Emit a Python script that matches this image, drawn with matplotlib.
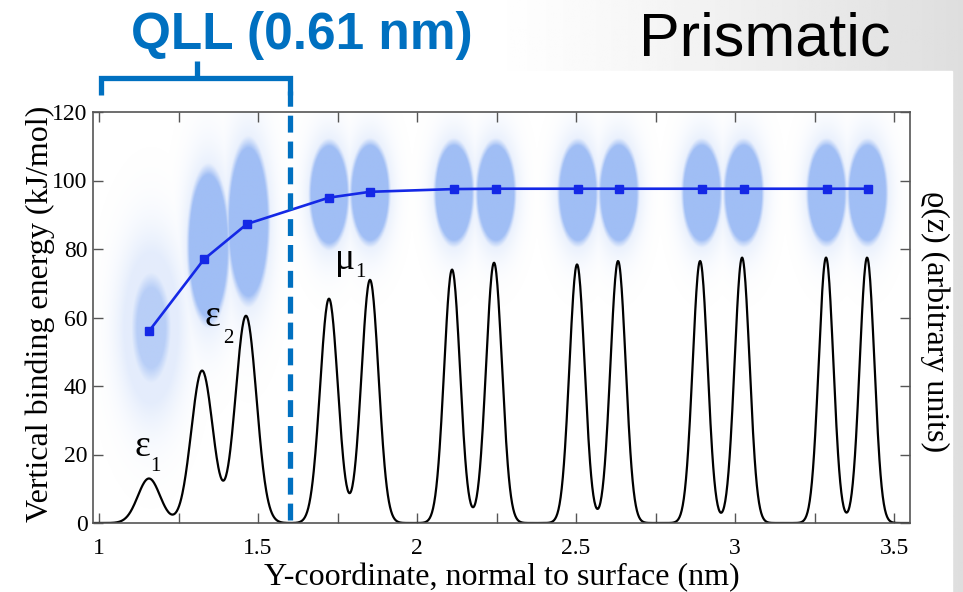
import numpy as np
import matplotlib
matplotlib.use("Agg")
import matplotlib.pyplot as plt
from matplotlib.patches import Rectangle
from matplotlib.ticker import MultipleLocator, FuncFormatter
from matplotlib.colors import to_rgb

# density profile peaks (position nm, height, width)
peak_pos = [1.157, 1.324, 1.462, 1.723, 1.852, 2.110, 2.242, 2.503, 2.632, 2.890, 3.022, 3.286, 3.415]
peak_height = [13, 44.5, 60.5, 65.5, 71, 74, 76, 75.5, 76.5, 76.5, 77.5, 77.5, 77.5]
peak_width = [0.035, 0.034, 0.033, 0.028, 0.027, 0.025, 0.025, 0.024, 0.024, 0.0235, 0.0235, 0.023, 0.023]

# mean vertical binding energy per layer
site_x = [1.157, 1.33, 1.465, 1.723, 1.852, 2.116, 2.248, 2.506, 2.635, 2.896, 3.028, 3.289, 3.418]
site_e = [56, 77, 87.3, 95, 96.7, 97.5, 97.6, 97.6, 97.6, 97.6, 97.6, 97.6, 97.6]

# scatter clouds of individual molecules (centre x, centre y, spread x, spread y, density, max opacity)
cloud_x = [1.163, 1.343, 1.469, 1.723, 1.852, 2.116, 2.248, 2.506, 2.635, 2.896, 3.028, 3.289, 3.418]
cloud_y = [57, 81, 88, 96, 96.5, 96.5, 96.5, 96.5, 96.5, 96.5, 96.5, 96.5, 96.5]
cloud_sx = [0.05, 0.036, 0.036, 0.034, 0.034, 0.034, 0.034, 0.034, 0.034, 0.034, 0.034, 0.034, 0.034]
cloud_sy = [13, 12.5, 13, 8.5, 8.3, 8.3, 8.3, 8.3, 8.3, 8.3, 8.3, 8.3, 8.3]
cloud_k = [3, 8, 8, 8, 8, 8, 8, 8, 8, 8, 8, 8, 8]
cloud_amax = [0.75, 1, 1, 1, 1, 1, 1, 1, 1, 1, 1, 1, 1]

qll_edge = 1.6

W, H = 963, 592
fig = plt.figure(figsize=(W / 100, H / 100), dpi=100)

# slide background: grey gradient at the top right, white panel behind the plot
bg = fig.add_axes([0, 0, 1, 1], zorder=-5)
bg.axis("off")
gx = np.linspace(0, 1, 400)
shade = 1 - 0.13 * np.clip((gx - 0.5) / 0.5, 0, 1) ** 1.2
bg.imshow(np.tile(shade, (10, 1)), cmap="gray", vmin=0, vmax=1, aspect="auto",
          extent=[0, 1, 0, 1], transform=bg.transAxes)
bg.add_patch(Rectangle((0, 0), 952 / W, 1 - 71 / H, color="white", transform=bg.transAxes))
bg.set_xlim(0, 1)
bg.set_ylim(0, 1)

ax = fig.add_axes([93 / W, 69 / H, 817 / W, 411 / H])
ax.set_xlim(0.981, 3.55)
ax.set_ylim(0, 120)

# clouds as a density image
gxs = np.linspace(0.981, 3.55, 900)
gys = np.linspace(0, 120, 500)
XX, YY = np.meshgrid(gxs, gys)
alpha = np.zeros_like(XX)
for cx, cy, sx, sy, k, am in zip(cloud_x, cloud_y, cloud_sx, cloud_sy, cloud_k, cloud_amax):
    r2 = (XX - cx) ** 2 / (2 * sx ** 2) + (YY - cy) ** 2 / (2 * sy ** 2)
    core = am * np.clip(k * np.exp(-r2) - 1, 0, 1)
    halo = 0.28 * np.clip(2.5 * np.exp(-r2 / 1.6), 0, 1)
    alpha = np.maximum(alpha, np.maximum(core, halo))
rgba = np.zeros(XX.shape + (4,))
rgba[..., :3] = to_rgb("#a0bef5")
rgba[..., 3] = alpha
ax.imshow(rgba, origin="lower", extent=[0.981, 3.55, 0, 120], aspect="auto",
          interpolation="bilinear", zorder=1)

# density profile
z = np.linspace(0.981, 3.55, 1500)
rho = np.zeros_like(z)
for p, h, w in zip(peak_pos, peak_height, peak_width):
    rho += h * np.exp(-(z - p) ** 2 / (2 * w ** 2))
ax.plot(z, rho, color="black", lw=1.6, zorder=2)

# binding energy per layer
ax.plot(site_x, site_e, color="#1428e6", lw=1.9, marker="s", ms=5.5, zorder=3)

# QLL boundary
ax.plot([qll_edge, qll_edge], [1, 126], color="#0070c0", lw=3.8, dashes=(3.2, 1.7),
        clip_on=False, zorder=4)

serif = ["Liberation Serif", "DejaVu Serif"]
ax.text(1.138, 22.2, "ε", fontsize=27, family=serif, ha="center", va="center")
ax.text(1.176, 16.6, "1", fontsize=15, family=serif, ha="center", va="center")
ax.text(1.358, 60.1, "ε", fontsize=27, family=serif, ha="center", va="center")
ax.text(1.406, 54.0, "2", fontsize=15, family=serif, ha="center", va="center")
ax.text(1.774, 76.8, "μ", fontsize=27, family=serif, ha="center", va="center")
ax.text(1.821, 73.0, "1", fontsize=15, family=serif, ha="center", va="center")

ax.xaxis.set_major_locator(MultipleLocator(0.5))
ax.xaxis.set_minor_locator(MultipleLocator(0.25))
ax.yaxis.set_major_locator(MultipleLocator(20))
ax.xaxis.set_major_formatter(FuncFormatter(lambda v, p: f"{v:g}"))
ax.tick_params(which="both", direction="in", top=True, right=True, length=7,
               width=1, color="#555555", labelsize=17)
ax.tick_params(axis="x", pad=11)
ax.tick_params(axis="y", pad=4)
for lab in ax.get_xticklabels() + ax.get_yticklabels():
    lab.set_family(serif)
for s in ax.spines.values():
    s.set_color("#555555")
    s.set_linewidth(1.2)

ax.set_xlabel("Y-coordinate, normal to surface (nm)", fontsize=23, family=serif, va="center")
ax.xaxis.set_label_coords(0.5, (523 - 578) / 411)
ax.set_ylabel("Vertical binding energy (kJ/mol)", fontsize=23, family=serif, va="center")
ax.yaxis.set_label_coords((40 - 93) / 817, (523 - 314) / 411)
fig.text(935 / W, 1 - 322 / H, "ϱ(z) (arbitrary units)", fontsize=23, family=serif,
         rotation=270, ha="center", va="center")

# QLL bracket
tr = ax.get_xaxis_transform()
blue = "#0070c0"
ax.plot([1.006, 1.006, qll_edge, qll_edge], [1.041, 1.083, 1.083, 1.041], color=blue,
        lw=3.8, transform=tr, clip_on=False, solid_capstyle="butt", solid_joinstyle="miter")
ax.plot([1.308, 1.308], [1.083, 1.124], color=blue, lw=3.8, transform=tr, clip_on=False,
        solid_capstyle="butt")

fig.text(302 / W, 1 - 36 / H, "QLL (0.61 nm)", fontsize=37, fontweight="bold",
         family=["Liberation Sans", "DejaVu Sans"], color=blue, ha="center", va="center")
fig.text(765 / W, 1 - 40 / H, "Prismatic", fontsize=44,
         family=["Liberation Sans", "DejaVu Sans"], color="black", ha="center", va="center")

fig.savefig("out.png", dpi=100)
